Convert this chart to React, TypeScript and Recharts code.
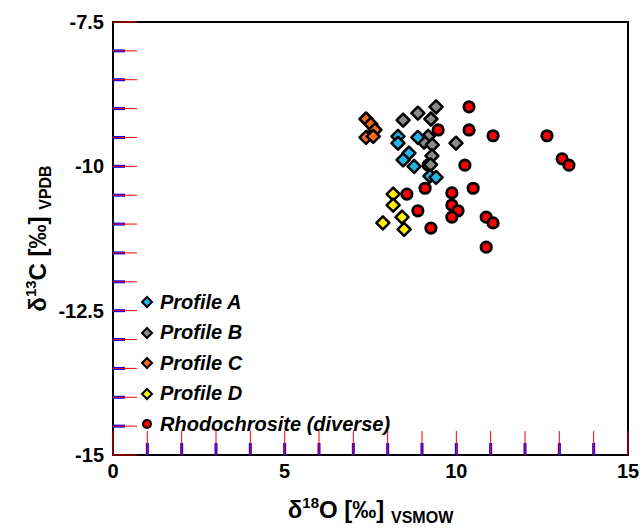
import React from 'react';
import { ScatterChart, Scatter, XAxis, YAxis, ReferenceArea } from 'recharts';

// δ18O (x) / δ13C (y) values
const profileA = [
  { x: 8.3, y: -9.48 }, { x: 8.3, y: -9.6 }, { x: 8.88, y: -9.5 }, { x: 8.62, y: -9.77 },
  { x: 8.45, y: -9.89 }, { x: 8.77, y: -10.0 }, { x: 9.23, y: -10.17 }, { x: 9.41, y: -10.19 },
];
const profileB = [
  { x: 8.45, y: -9.2 }, { x: 8.88, y: -9.08 }, { x: 9.41, y: -8.97 }, { x: 9.26, y: -9.18 },
  { x: 9.18, y: -9.48 }, { x: 9.06, y: -9.58 }, { x: 9.3, y: -9.63 }, { x: 9.29, y: -9.82 },
  { x: 9.99, y: -9.6 }, { x: 9.25, y: -9.97 },
];
const profileC = [
  { x: 7.37, y: -9.18 }, { x: 7.51, y: -9.27 }, { x: 7.63, y: -9.37 }, { x: 7.37, y: -9.5 }, { x: 7.58, y: -9.48 },
];
const profileD = [
  { x: 8.16, y: -10.48 }, { x: 8.16, y: -10.67 }, { x: 8.42, y: -10.88 }, { x: 7.86, y: -10.98 }, { x: 8.48, y: -11.09 },
];
const rhodochrosite = [
  { x: 10.37, y: -8.97 }, { x: 9.47, y: -9.37 }, { x: 10.37, y: -9.37 }, { x: 11.07, y: -9.47 },
  { x: 12.64, y: -9.47 }, { x: 13.08, y: -9.87 }, { x: 13.28, y: -9.98 }, { x: 10.25, y: -9.98 },
  { x: 9.18, y: -9.98 }, { x: 10.49, y: -10.38 }, { x: 9.09, y: -10.38 }, { x: 9.87, y: -10.46 },
  { x: 8.56, y: -10.48 }, { x: 9.87, y: -10.67 }, { x: 10.05, y: -10.77 }, { x: 8.88, y: -10.77 },
  { x: 9.87, y: -10.88 }, { x: 10.87, y: -10.88 }, { x: 11.07, y: -10.98 }, { x: 9.26, y: -11.07 },
  { x: 10.87, y: -11.4 },
];

const xTicks = [0, 1, 2, 3, 4, 5, 6, 7, 8, 9, 10, 11, 12, 13, 14, 15];
const yTicks = [-15, -14.5, -14, -13.5, -13, -12.5, -12, -11.5, -11, -10.5, -10, -9.5, -9, -8.5, -8, -7.5];
const xLabeled = [0, 5, 10, 15];
const yLabeled = [-15, -12.5, -10, -7.5];

const legendItems = [
  { name: 'Profile A', color: '#22b5e8', shape: 'diamond' },
  { name: 'Profile B', color: '#8a8a8a', shape: 'diamond' },
  { name: 'Profile C', color: '#f26b1d', shape: 'diamond' },
  { name: 'Profile D', color: '#fff200', shape: 'diamond' },
  { name: 'Rhodochrosite (diverse)', color: '#ff0000', shape: 'circle' },
];

const FONT = '"Liberation Sans", Arial, Helvetica, sans-serif';

const xTickMarks = xTicks.filter((v) => v > 0 && v < 15).map((v) => ({ x: v, y: -15 }));
const yTickMarks = yTicks.filter((v) => v > -15 && v < -7.5).map((v) => ({ x: 0, y: v }));

// diagnostic colours: scatter-based ticks blue (12px), axis ticks red (24px)
const xTickShape = (props: any) => (
  <path d={`M${props.cx},${props.cy}V${props.cy - 12}`} stroke="#00f" strokeWidth={3} fill="none" />
);
const yTickShape = (props: any) => (
  <path d={`M${props.cx},${props.cy}H${props.cx + 12}`} stroke="#00f" strokeWidth={3} fill="none" />
);

const XTick = (props: any) => {
  const { x, y, payload } = props;
  const v = payload.value;
  return (
    <g>
      <line x1={x} y1={y} x2={x} y2={y - 24} stroke="#f00" strokeWidth={1} />
      <text x={x} y={y + 23} textAnchor="middle" fontFamily={FONT} fontWeight="bold" fontSize={20} fill="#000">
        {xLabeled.includes(v) ? v : ''}
      </text>
    </g>
  );
};

const YTick = (props: any) => {
  const { x, y, payload } = props;
  const v = payload.value;
  return (
    <g>
      <line x1={x} y1={y} x2={x + 24} y2={y} stroke="#f00" strokeWidth={1} />
      <text x={x - 9} y={y + 7} textAnchor="end" fontFamily={FONT} fontWeight="bold" fontSize={20} fill="#000">
        {yLabeled.includes(v) ? v : ''}
      </text>
    </g>
  );
};

const diamond = (fill: string, r = 6.5) => (props: any) => {
  const { cx, cy } = props;
  return (
    <polygon
      points={`${cx},${cy - r} ${cx + r},${cy} ${cx},${cy + r} ${cx - r},${cy}`}
      fill={fill}
      stroke="#000"
      strokeWidth={2.5}
      strokeLinejoin="round"
    />
  );
};

const redDot = (props: any) => {
  const { cx, cy } = props;
  return <circle cx={cx} cy={cy} r={5.2} fill="#ff0000" stroke="#000" strokeWidth={2.8} />;
};

const XTitle = (props: any) => {
  const { viewBox } = props;
  const cx = viewBox.x + viewBox.width / 2;
  return (
    <text x={cx} y={viewBox.y + 63} textAnchor="middle" fontFamily={FONT} fontWeight="bold" fontSize={24} fill="#000">
      δ<tspan fontSize={15} dy={-10}>18</tspan>
      <tspan dy={10}>O [‰] </tspan>
      <tspan fontSize={16} dy={5}>VSMOW</tspan>
    </text>
  );
};

const YTitle = (props: any) => {
  const { viewBox } = props;
  const cy = viewBox.y + viewBox.height / 2;
  const bx = 46;
  return (
    <text
      x={bx}
      y={cy}
      transform={`rotate(-90, ${bx}, ${cy})`}
      textAnchor="middle"
      fontFamily={FONT}
      fontWeight="bold"
      fontSize={24}
      fill="#000"
    >
      δ<tspan fontSize={15} dy={-10}>13</tspan>
      <tspan dy={10}>C [‰] </tspan>
      <tspan fontSize={16} dy={5}>VPDB</tspan>
    </text>
  );
};

const LegendBox = () => (
  <div style={{ position: 'absolute', left: 140, top: 287, fontFamily: FONT }}>
    {legendItems.map((it) => (
      <div key={it.name} style={{ display: 'flex', alignItems: 'center', height: 30.5 }}>
        <svg width={14} height={14} style={{ marginRight: 6 }}>
          {it.shape === 'diamond' ? (
            <polygon points="7,2 12,7 7,12 2,7" fill={it.color} stroke="#000" strokeWidth={2} />
          ) : (
            <circle cx={7} cy={7} r={4} fill={it.color} stroke="#000" strokeWidth={2} />
          )}
        </svg>
        <span style={{ fontSize: 20, fontWeight: 'bold', fontStyle: 'italic', color: '#000' }}>{it.name}</span>
      </div>
    ))}
  </div>
);

export default function App() {
  return (
    <div style={{ position: 'absolute', left: 0, top: 0, width: 644, height: 532 }}>
      <ScatterChart width={644} height={532} margin={{ top: 22, right: 16, bottom: 0, left: 0 }}>
        <XAxis
          type="number"
          dataKey="x"
          domain={[0, 15]}
          ticks={xTicks}
          interval={0}
          tickSize={0}
          tickMargin={0}
          tick={<XTick />}
          height={77}
          stroke="#000"
          strokeWidth={2}
          label={<XTitle />}
        />
        <YAxis
          type="number"
          dataKey="y"
          domain={[-15, -7.5]}
          ticks={yTicks}
          interval={0}
          tickSize={0}
          tickMargin={0}
          tick={<YTick />}
          width={113}
          stroke="#000"
          strokeWidth={2}
          label={<YTitle />}
        />
        <ReferenceArea x1={0} x2={15} y1={-15} y2={-7.5} fill="none" fillOpacity={0} stroke="#000" strokeWidth={2} />
        <Scatter data={xTickMarks} shape={xTickShape} legendType="none" isAnimationActive={false} />
        <Scatter data={yTickMarks} shape={yTickShape} legendType="none" isAnimationActive={false} />
        <Scatter name="Rhodochrosite (diverse)" data={rhodochrosite} shape={redDot} isAnimationActive={false} />
        <Scatter name="Profile D" data={profileD} shape={diamond('#fff200')} isAnimationActive={false} />
        <Scatter name="Profile C" data={profileC} shape={diamond('#f26b1d')} isAnimationActive={false} />
        <Scatter name="Profile B" data={profileB} shape={diamond('#8a8a8a')} isAnimationActive={false} />
        <Scatter name="Profile A" data={profileA} shape={diamond('#22b5e8')} isAnimationActive={false} />
      </ScatterChart>
      <LegendBox />
    </div>
  );
}
